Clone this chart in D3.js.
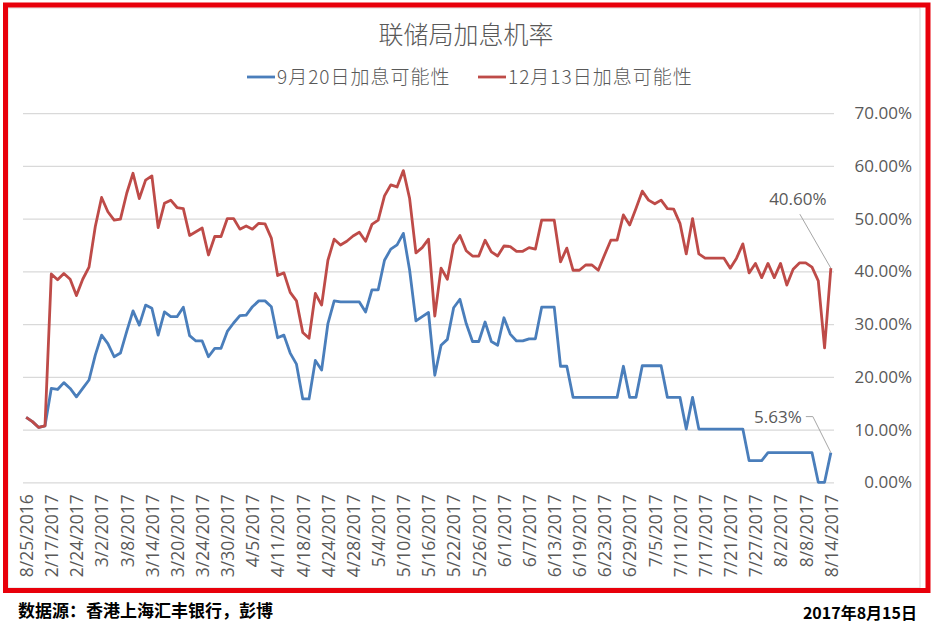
<!DOCTYPE html>
<html>
<head>
<meta charset="utf-8">
<script src="https://d3js.org/d3.v7.min.js"></script>
<style>
  body { margin: 0; background: #fff; }
  svg { display: block; }
</style>
</head>
<body>
<svg id="chart" width="934" height="627"></svg>
<script>
// tick labels on the category axis (one every 4 points)
var xLabels = ["8/25/2016", "2/17/2017", "2/24/2017", "3/2/2017", "3/8/2017", "3/14/2017",
  "3/20/2017", "3/24/2017", "3/30/2017", "4/5/2017", "4/11/2017", "4/18/2017", "4/24/2017",
  "4/28/2017", "5/4/2017", "5/10/2017", "5/16/2017", "5/22/2017", "5/26/2017", "6/1/2017",
  "6/7/2017", "6/13/2017", "6/19/2017", "6/23/2017", "6/29/2017", "7/5/2017", "7/11/2017",
  "7/17/2017", "7/21/2017", "7/27/2017", "8/2/2017", "8/8/2017", "8/14/2017"];

var yTicks = [0, 0.1, 0.2, 0.3, 0.4, 0.5, 0.6, 0.7];

var seriesNames = ["9月20日加息可能性", "12月13日加息可能性"];

// probability of a hike at the September 20 meeting (%)
var sepHike = [12.3, 11.5, 10.4, 10.7, 17.8, 17.6, 18.9, 17.8, 16.2, 17.8,
  19.4, 24.1, 27.9, 26.3, 23.8, 24.5, 28.6, 32.5, 29.8, 33.6,
  33.0, 27.9, 32.3, 31.4, 31.4, 33.2, 27.8, 26.8, 26.8, 23.8,
  25.4, 25.4, 28.6, 30.2, 31.6, 31.7, 33.3, 34.4, 34.4, 33.3,
  27.4, 27.9, 24.5, 22.4, 15.8, 15.8, 23.1, 21.3, 30.1, 34.4,
  34.2, 34.2, 34.2, 34.2, 32.3, 36.5, 36.5, 42.1, 44.2, 45.0,
  47.2, 40.2, 30.6, 31.4, 32.2, 20.3, 26.0, 27.1, 33.1, 34.7,
  30.1, 26.7, 26.7, 30.4, 26.7, 26.0, 31.2, 28.1, 26.8, 26.8,
  27.2, 27.2, 33.2, 33.2, 33.2, 22.0, 22.0, 16.1, 16.1, 16.1,
  16.1, 16.1, 16.1, 16.1, 16.1, 22.0, 16.1, 16.1, 22.1, 22.1,
  22.1, 22.1, 16.1, 16.1, 16.1, 10.1, 16.1, 10.1, 10.1, 10.1,
  10.1, 10.1, 10.1, 10.1, 10.1, 4.1, 4.1, 4.1, 5.63, 5.63,
  5.63, 5.63, 5.63, 5.63, 5.63, 5.63, 0, 0, 5.63];

// probability of a hike at the December 13 meeting (%)
var decHike = [12.3, 11.5, 10.4, 10.7, 39.5, 38.4, 39.6, 38.5, 35.4, 38.5,
  40.8, 48.5, 54.0, 51.3, 49.7, 49.9, 54.8, 58.6, 53.8, 57.3,
  58.1, 48.3, 52.9, 53.5, 52.1, 51.9, 46.8, 47.5, 48.2, 43.1,
  46.6, 46.6, 50.0, 50.0, 48.0, 48.6, 48.0, 49.1, 49.0, 46.3,
  39.2, 39.7, 36.0, 34.4, 28.4, 27.3, 35.8, 33.6, 42.1, 46.1,
  45.0, 45.7, 46.7, 47.4, 45.7, 48.9, 49.7, 54.3, 56.4, 56.0,
  59.1, 53.8, 43.5, 44.5, 46.1, 31.5, 40.6, 38.5, 45.0, 46.8,
  43.9, 42.9, 42.9, 45.9, 43.7, 42.9, 44.8, 44.7, 43.8, 43.8,
  44.5, 44.2, 49.7, 49.7, 49.7, 41.8, 44.4, 40.2, 40.2, 41.2,
  41.2, 40.2, 43.1, 45.9, 45.9, 50.7, 48.8, 51.9, 55.2, 53.5,
  52.8, 53.5, 51.9, 51.8, 49.1, 43.3, 50.0, 43.3, 42.5, 42.5,
  42.5, 42.5, 40.6, 42.5, 45.2, 39.7, 41.5, 38.8, 41.5, 38.8,
  41.5, 37.4, 40.4, 41.6, 41.6, 40.8, 38.2, 25.5, 40.6];

var blue = "#4a7ebb", red = "#be4b48", grey = "#595959";
var numFont = "'Open Sans', 'Noto Sans', sans-serif";
var cjkFont = "'Noto Sans CJK SC', sans-serif";

var svg = d3.select("#chart");

// frame: thin chart border, then the red box drawn on top
svg.append("rect")
  .attr("x", 8).attr("y", 8).attr("width", 912).attr("height", 580)
  .attr("fill", "none").attr("stroke", "#d9d9d9").attr("stroke-width", 1);
svg.append("rect")
  .attr("x", 5.5).attr("y", 5).attr("width", 922.5).attr("height", 585.5)
  .attr("fill", "none").attr("stroke", "#e8000b").attr("stroke-width", 5);

var n = decHike.length;
var x = d3.scalePoint().domain(d3.range(n)).range([23, 834]).padding(0.5);
var y = d3.scaleLinear().domain([0, 0.7]).range([482.3, 113.1]);

// gridlines
svg.append("g")
  .attr("transform", "translate(23,0)")
  .call(d3.axisLeft(y).tickValues(yTicks).tickSize(-811).tickFormat(""))
  .call(g => g.select(".domain").remove())
  .call(g => g.selectAll("line").attr("stroke", "#d9d9d9").attr("stroke-width", 1.2));

// value axis on the right
svg.append("g")
  .attr("transform", "translate(834,0)")
  .call(d3.axisRight(y).tickValues(yTicks).tickSize(0).tickFormat(d3.format(".2%")))
  .call(g => g.select(".domain").remove())
  .call(g => g.selectAll("text")
    .attr("x", 78).attr("text-anchor", "end")
    .attr("fill", grey).style("font", "17px " + numFont));

// category axis, labels turned on their side
var tickIdx = xLabels.map((d, i) => i * 4);
svg.append("g")
  .attr("transform", "translate(0," + y(0) + ")")
  .call(d3.axisBottom(x).tickValues(tickIdx).tickSize(0)
    .tickFormat(d => xLabels[d / 4]))
  .call(g => g.select(".domain").remove())
  .call(g => g.selectAll("text")
    .attr("transform", "rotate(-90)")
    .attr("x", -12).attr("y", 0).attr("dy", "0.36em")
    .attr("text-anchor", "end")
    .attr("fill", grey).style("font", "17.5px " + numFont));

// the two lines
var line = d3.line()
  .x((d, i) => x(i))
  .y(d => y(d / 100));

[[sepHike, blue], [decHike, red]].forEach(function (s) {
  svg.append("path")
    .datum(s[0])
    .attr("d", line)
    .attr("fill", "none")
    .attr("stroke", s[1])
    .attr("stroke-width", 2.8)
    .attr("stroke-linejoin", "round");
});

// data labels on the last point, with leader lines
var last = n - 1;
var fmt = d3.format(".2%");
var lx = x(last);

var ry = y(decHike[last] / 100);
svg.append("path")
  .attr("d", "M" + (lx - 31) + "," + (ry - 54) + "L" + lx + "," + ry)
  .attr("stroke", "#a6a6a6").attr("fill", "none").attr("stroke-width", 1);
svg.append("text")
  .attr("x", lx - 33).attr("y", ry - 63)
  .attr("text-anchor", "middle")
  .attr("fill", grey).style("font", "17px " + numFont)
  .text(fmt(decHike[last] / 100));

var by = y(sepHike[last] / 100);
svg.append("path")
  .attr("d", "M" + (lx - 25) + "," + (by - 36) + "L" + (lx - 18) + "," + (by - 36) + "L" + lx + "," + by)
  .attr("stroke", "#a6a6a6").attr("fill", "none").attr("stroke-width", 1);
svg.append("text")
  .attr("x", lx - 53).attr("y", by - 30)
  .attr("text-anchor", "middle")
  .attr("fill", grey).style("font", "17px " + numFont)
  .text(fmt(sepHike[last] / 100));

// title
svg.append("text")
  .attr("x", 466).attr("y", 44)
  .attr("text-anchor", "middle")
  .attr("fill", grey).style("font", "300 25px " + cjkFont)
  .text("联储局加息机率");

// legend
var legendX = [247, 478];
seriesNames.forEach(function (name, i) {
  var g = svg.append("g").attr("transform", "translate(" + legendX[i] + ",77)");
  g.append("line")
    .attr("x1", 0).attr("x2", 28)
    .attr("stroke", i === 0 ? blue : red).attr("stroke-width", 2.8);
  g.append("text")
    .attr("x", 30).attr("y", 7)
    .attr("fill", grey)
    .style("font", "300 19px " + cjkFont)
    .style("letter-spacing", "1px")
    .text(name);
});

// source and date under the frame
svg.append("text")
  .attr("x", 18).attr("y", 617)
  .attr("fill", "#000").style("font", "bold 17px " + cjkFont)
  .text("数据源：香港上海汇丰银行，彭博");
svg.append("text")
  .attr("x", 917).attr("y", 619)
  .attr("text-anchor", "end")
  .attr("fill", "#000").style("font", "bold 16px " + cjkFont)
  .text("2017年8月15日");
</script>
</body>
</html>
